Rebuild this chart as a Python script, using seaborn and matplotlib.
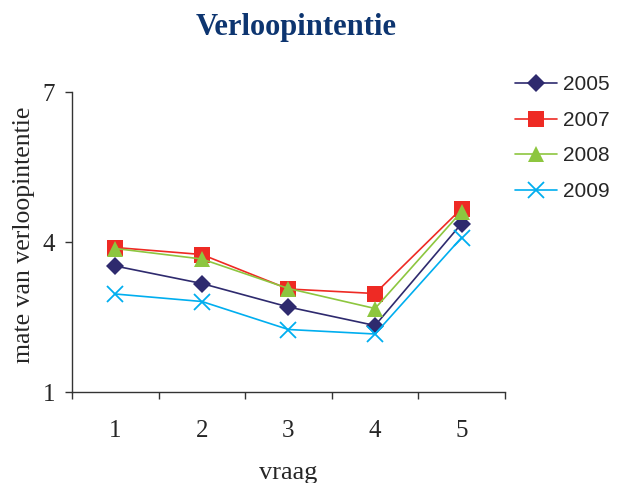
import numpy as np
import pandas as pd
import matplotlib
matplotlib.use("Agg")
import matplotlib.pyplot as plt
import seaborn as sns

# data
vraag = [1, 2, 3, 4, 5]
v2005 = [3.52, 3.17, 2.70, 2.33, 4.37]
v2007 = [3.89, 3.75, 3.06, 2.97, 4.67]
v2008 = [3.87, 3.66, 3.07, 2.67, 4.61]
v2009 = [2.96, 2.81, 2.25, 2.16, 4.09]
years = ["2005", "2007", "2008", "2009"]

df = pd.DataFrame({"vraag": vraag, "2005": v2005, "2007": v2007,
                   "2008": v2008, "2009": v2009})
df_long = pd.melt(df, id_vars=["vraag"], value_vars=years,
                  var_name="jaar", value_name="score")

palette = {"2005": "#2e2a6e", "2007": "#ee2a24", "2008": "#8dc63f", "2009": "#00aeef"}
markers = {"2005": "D", "2007": "s", "2008": "^", "2009": "x"}
sizes = {"2005": 9.5, "2007": 11, "2008": 11.5, "2009": 11}

sns.set_style("ticks")
plt.rcParams["font.family"] = ["DejaVu Serif"]

fig = plt.figure(figsize=(6.18, 4.83), dpi=100)
ax = fig.add_axes([0.1165, 0.1884, 0.7005, 0.6211])

for yr in years:
    sub = df_long[df_long["jaar"] == yr]
    sns.lineplot(data=sub, x="vraag", y="score", ax=ax, color=palette[yr],
                 marker=markers[yr], markersize=sizes[yr],
                 markeredgewidth=1.3 if yr == "2009" else 0,
                 markeredgecolor=palette[yr], linewidth=1.2, label=yr)

ax.set_xlim(0.5, 5.5)
ax.set_ylim(1, 7)
ax.set_yticks([1, 4, 7])
ax.set_yticklabels(["1", "4", "7"], family="Liberation Serif", fontsize=18)
ax.set_xticks(np.arange(0.5, 6.0, 1.0))
ax.set_xticklabels([])
ax.set_xticks(vraag, minor=True)
ax.set_xticklabels([str(v) for v in vraag], minor=True, family="Liberation Serif", fontsize=18)
ax.tick_params(axis="x", which="minor", length=0, pad=20)
ax.tick_params(axis="both", which="major", length=5, width=1, color="#333333", direction="out")
ax.tick_params(axis="y", pad=7)
for s in ["top", "right"]:
    ax.spines[s].set_visible(False)
for s in ["left", "bottom"]:
    ax.spines[s].set_color("#333333")
    ax.spines[s].set_linewidth(1)

ax.set_xlabel("vraag", family="Liberation Serif", fontsize=19, labelpad=14.5)
ax.set_ylabel("mate van verloopintentie", family="Liberation Serif", fontsize=18.5)
ax.yaxis.set_label_coords(-0.085, 0.523)

fig.text(296 / 618, 1 - 35 / 483, "Verloopintentie", ha="center", va="baseline",
         family="Liberation Serif", fontweight="bold", fontsize=22, color="#0d3570")

ax.legend(loc="upper left", bbox_to_anchor=(505 / 618, 1 - 65 / 483),
          bbox_transform=fig.transFigure, frameon=False, handlelength=2.0,
          handletextpad=0.3, labelspacing=0.79, borderpad=0,
          prop={"family": "Liberation Sans", "size": 15})

fig.savefig("out.png", dpi=100)
